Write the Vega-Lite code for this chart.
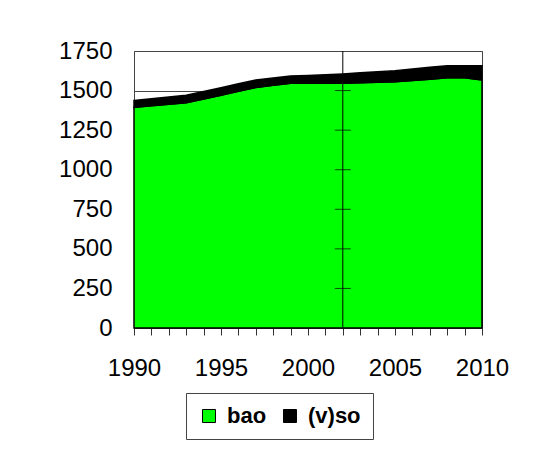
{
  "$schema": "https://vega.github.io/schema/vega-lite/v6.json",
  "width": 348,
  "height": 277,
  "autosize": "none",
  "padding": {"left": 134, "top": 51, "right": 68, "bottom": 122},
  "background": "white",
  "config": {
    "font": "Liberation Sans",
    "view": {"stroke": "#444", "strokeWidth": 1}
  },
  "encoding": {
    "x": {
      "field": "year",
      "type": "quantitative",
      "scale": {"domain": [1990, 2010], "nice": false, "zero": false},
      "axis": {
        "title": null,
        "values": [1990, 1991, 1992, 1993, 1994, 1995, 1996, 1997, 1998, 1999, 2000, 2001, 2002, 2003, 2004, 2005, 2006, 2007, 2008, 2009, 2010],
        "format": "d",
        "labelExpr": "datum.value % 5 === 0 ? datum.label : ''",
        "labelOverlap": false,
        "labelFlush": false,
        "labelFontSize": 24,
        "labelColor": "black",
        "labelPadding": 21,
        "tickSize": 7,
        "tickColor": "#333",
        "domain": false,
        "grid": false
      }
    },
    "y": {
      "field": "value",
      "type": "quantitative",
      "scale": {"domain": [0, 1750], "nice": false},
      "axis": {
        "title": null,
        "values": [0, 250, 500, 750, 1000, 1250, 1500, 1750],
        "format": "d",
        "labelOverlap": false,
        "ticks": false,
        "tickSize": 0,
        "domain": false,
        "grid": true,
        "gridColor": "#444",
        "gridWidth": 1,
        "labelFontSize": 24,
        "labelColor": "black",
        "labelPadding": 22
      }
    }
  },
  "layer": [
    {
      "data": {
        "values": [
          {"year": 1990, "series": "bao", "value": 1394}, {"year": 1990, "series": "(v)so", "value": 44},
          {"year": 1991, "series": "bao", "value": 1404}, {"year": 1991, "series": "(v)so", "value": 44},
          {"year": 1992, "series": "bao", "value": 1413}, {"year": 1992, "series": "(v)so", "value": 46},
          {"year": 1993, "series": "bao", "value": 1423}, {"year": 1993, "series": "(v)so", "value": 47},
          {"year": 1994, "series": "bao", "value": 1447}, {"year": 1994, "series": "(v)so", "value": 47},
          {"year": 1995, "series": "bao", "value": 1471}, {"year": 1995, "series": "(v)so", "value": 47},
          {"year": 1996, "series": "bao", "value": 1496}, {"year": 1996, "series": "(v)so", "value": 47},
          {"year": 1997, "series": "bao", "value": 1520}, {"year": 1997, "series": "(v)so", "value": 47},
          {"year": 1998, "series": "bao", "value": 1533}, {"year": 1998, "series": "(v)so", "value": 47},
          {"year": 1999, "series": "bao", "value": 1546}, {"year": 1999, "series": "(v)so", "value": 46},
          {"year": 2000, "series": "bao", "value": 1546}, {"year": 2000, "series": "(v)so", "value": 50},
          {"year": 2001, "series": "bao", "value": 1546}, {"year": 2001, "series": "(v)so", "value": 54},
          {"year": 2002, "series": "bao", "value": 1546}, {"year": 2002, "series": "(v)so", "value": 59},
          {"year": 2003, "series": "bao", "value": 1549}, {"year": 2003, "series": "(v)so", "value": 63},
          {"year": 2004, "series": "bao", "value": 1553}, {"year": 2004, "series": "(v)so", "value": 66},
          {"year": 2005, "series": "bao", "value": 1556}, {"year": 2005, "series": "(v)so", "value": 70},
          {"year": 2006, "series": "bao", "value": 1563}, {"year": 2006, "series": "(v)so", "value": 73},
          {"year": 2007, "series": "bao", "value": 1571}, {"year": 2007, "series": "(v)so", "value": 76},
          {"year": 2008, "series": "bao", "value": 1581}, {"year": 2008, "series": "(v)so", "value": 76},
          {"year": 2009, "series": "bao", "value": 1581}, {"year": 2009, "series": "(v)so", "value": 76},
          {"year": 2010, "series": "bao", "value": 1567}, {"year": 2010, "series": "(v)so", "value": 90}
        ]
      },
      "mark": {"type": "area", "stroke": "black", "strokeWidth": 1.5, "interpolate": "linear"},
      "encoding": {
        "color": {
          "field": "series",
          "type": "nominal",
          "scale": {"domain": ["bao", "(v)so"], "range": ["#00ff00", "#000000"]},
          "legend": {
            "title": null,
            "orient": "none",
            "direction": "horizontal",
            "legendX": 52,
            "legendY": 342,
            "symbolType": "square",
            "symbolSize": 169,
            "symbolStrokeColor": "black",
            "symbolStrokeWidth": 1,
            "symbolOpacity": 1,
            "labelFontSize": 22,
            "labelFontWeight": "bold",
            "labelColor": "black",
            "labelOffset": 7,
            "columnPadding": 12,
            "padding": 12,
            "strokeColor": "#444",
            "fillColor": "white"
          }
        },
        "order": {"field": "series", "sort": "descending"}
      }
    },
    {
      "data": {"values": [{"year": 2002, "value": 0, "value2": 1750}]},
      "mark": {"type": "rule", "color": "black", "strokeWidth": 1},
      "encoding": {"y2": {"field": "value2"}}
    },
    {
      "data": {"values": [{"year": 2002, "value": 250}, {"year": 2002, "value": 500}, {"year": 2002, "value": 750}, {"year": 2002, "value": 1000}, {"year": 2002, "value": 1250}, {"year": 2002, "value": 1500}]},
      "mark": {"type": "tick", "orient": "horizontal", "size": 16, "thickness": 1, "color": "black"},
      "encoding": {}
    }
  ]
}
